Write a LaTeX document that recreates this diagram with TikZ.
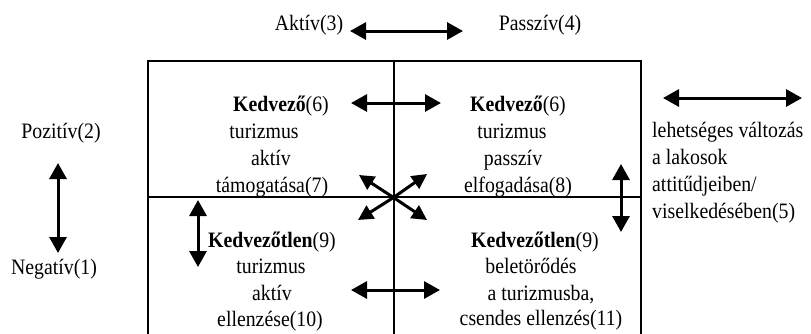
\documentclass[tikz,border=0pt]{standalone}
\usepackage{fontspec}
\setmainfont[FakeStretch=0.9]{Liberation Serif}
\usetikzlibrary{arrows.meta}
\begin{document}
\begin{tikzpicture}[x=1pt,y=-1pt,
  lbl/.style={anchor=base, inner sep=0pt, font=\fontsize{22}{27}\selectfont},
  lgd/.style={anchor=base west, inner sep=0pt, font=\fontsize{22}{27}\selectfont},
  dbl/.style={{Triangle[length=16pt,width=17pt]}-{Triangle[length=16pt,width=17pt]}, line width=3pt},
  sgl/.style={-{Triangle[length=15pt,width=15pt]}, line width=3pt},
  frame/.style={line width=2pt}]
\useasboundingbox (0,0) rectangle (811,333);
% frame
\draw[frame] (148,340) -- (148,61) -- (641,61) -- (641,340);
\draw[frame] (394,61) -- (394,340);
\draw[frame] (148,197) -- (641,197);
% top labels
\node[lbl] (akt) at (309,30) {Aktív(3)};
\node[lbl] (pas) at (540,30) {Passzív(4)};
\coordinate (ta1) at (350,31);
\coordinate (ta2) at (463,31);
\draw[dbl] (ta1) -- (ta2);
% left labels
\node[lbl] (poz) at (61,138) {Pozitív(2)};
\node[lbl] (neg) at (54,274) {Negatív(1)};
\coordinate (la1) at (58,163);
\coordinate (la2) at (58,253);
\draw[dbl] (la1) -- (la2);
% legend
\coordinate (ra1) at (663,98);
\coordinate (ra2) at (802,98);
\draw[dbl] (ra1) -- (ra2);
\node[lgd] (lg1) at (652,137) {lehetséges változás};
\node[lgd] (lg2) at (652,164) {a lakosok};
\node[lgd] (lg3) at (652,191) {attitűdjeiben/};
\node[lgd] (lg4) at (652,218) {viselkedésében(5)};
% top-left quadrant
\node[lbl] (tl1) at (281,111) {\textbf{Kedvező}(6)};
\node[lbl] (tl2) at (264,138) {turizmus};
\node[lbl] (tl3) at (271,165) {aktív};
\node[lbl] (tl4) at (272,192) {támogatása(7)};
% top-right quadrant
\node[lbl] (tr1) at (518,111) {\textbf{Kedvező}(6)};
\node[lbl] (tr2) at (512,138) {turizmus};
\node[lbl] (tr3) at (513,165) {passzív};
\node[lbl] (tr4) at (518,192) {elfogadása(8)};
% bottom-left quadrant
\node[lbl] (bl1) at (272,247) {\textbf{Kedvezőtlen}(9)};
\node[lbl] (bl2) at (271,273) {turizmus};
\node[lbl] (bl3) at (272,300) {aktív};
\node[lbl] (bl4) at (270,326) {ellenzése(10)};
% bottom-right quadrant
\node[lbl] (br1) at (535,247) {\textbf{Kedvezőtlen}(9)};
\node[lbl] (br2) at (531,273) {beletörődés};
\node[lbl] (br3) at (541,300) {a turizmusba,};
\node[lbl] (br4) at (541,325) {csendes ellenzés(11)};
% inner arrows
\coordinate (h1a) at (351,103);
\coordinate (h1b) at (441,103);
\draw[dbl] (h1a) -- (h1b);
\coordinate (h2a) at (351,290);
\coordinate (h2b) at (440,290);
\draw[dbl] (h2a) -- (h2b);
\coordinate (v1a) at (198,200);
\coordinate (v1b) at (198,267);
\draw[dbl] (v1a) -- (v1b);
\coordinate (v2a) at (621,164);
\coordinate (v2b) at (621,232);
\draw[dbl] (v2a) -- (v2b);
% center cross arrows
\coordinate (c) at (393.5,197.5);
\coordinate (d1) at (359,175);
\coordinate (d2) at (427,174);
\coordinate (d3) at (358,220);
\coordinate (d4) at (427,220);
\draw[sgl] (c) -- (d1);
\draw[sgl] (c) -- (d2);
\draw[sgl] (c) -- (d3);
\draw[sgl] (c) -- (d4);
\end{tikzpicture}
\end{document}
